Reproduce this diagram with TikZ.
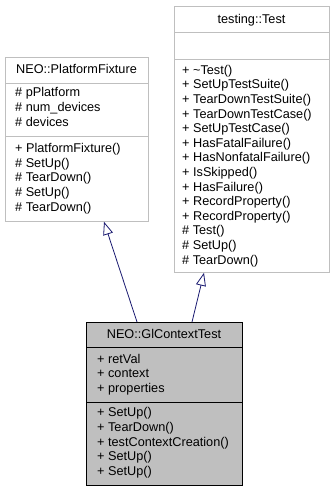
\documentclass[tikz,border=0pt]{standalone}
\usepackage{fontspec}
\setmainfont{Liberation Sans}
\usetikzlibrary{arrows.meta}

\definecolor{edgeblue}{HTML}{191970}
\definecolor{boxgray}{HTML}{BFBFBF}

\tikzset{
  classbox/.style={draw=boxgray, fill=white, anchor=north west, inner sep=0pt, line width=0.8pt},
  focusbox/.style={classbox, draw=black, fill=boxgray},
  members/.style={anchor=north west, inner sep=0pt, align=left, font=\fontsize{12.7}{14.6}\selectfont},
  classname/.style={anchor=base, inner sep=0pt, font=\fontsize{12.7}{14.6}\selectfont},
  inherit/.style={draw=edgeblue, line width=0.8pt, -{Triangle[open, length=13pt, width=10pt]}},
}

\begin{document}
\begin{tikzpicture}[x=1pt, y=-1pt]
        \useasboundingbox (0,0) rectangle (335,492);

        % NEO::PlatformFixture
        \node[classbox, minimum width=143pt, minimum height=164pt] (fixture) at (5,57) {};
        \draw[boxgray, line width=0.8pt] (5,83) -- (148,83);
        \draw[boxgray, line width=0.8pt] (5,136) -- (148,136);
        \node[classname] (fixture-name) at (76.5,74) {NEO::PlatformFixture};
        \node[members] (fixture-attr) at (15,86.5) {\strut\# pPlatform\\\# num\_devices\\\# devices};
        \node[members] (fixture-ops) at (15,142.3) {\strut+ PlatformFixture()\\\# SetUp()\\\# TearDown()\\\# SetUp()\\\# TearDown()};

        % testing::Test
        \node[classbox, minimum width=155pt, minimum height=266pt] (test) at (174,6) {};
        \draw[boxgray, line width=0.8pt] (174,32) -- (329,32);
        \draw[boxgray, line width=0.8pt] (174,59) -- (329,59);
        \node[classname] (test-name) at (251.5,24) {testing::Test};
        \node[members] (test-ops) at (182,63.8) {\strut+ \textasciitilde Test()\\+ SetUpTestSuite()\\+ TearDownTestSuite()\\+ TearDownTestCase()\\+ SetUpTestCase()\\+ HasFatalFailure()\\+ HasNonfatalFailure()\\+ IsSkipped()\\+ HasFailure()\\+ RecordProperty()\\+ RecordProperty()\\\# Test()\\\# SetUp()\\\# TearDown()};

        % NEO::GlContextTest
        \node[focusbox, minimum width=156pt, minimum height=163pt] (glctx) at (86,322) {};
        \draw[line width=0.8pt] (86,347) -- (242,347);
        \draw[line width=0.8pt] (86,402) -- (242,402);
        \node[classname] (glctx-name) at (164,338) {NEO::GlContextTest};
        \node[members] (glctx-attr) at (97,352.8) {\strut+ retVal\\+ context\\+ properties};
        \node[members] (glctx-ops) at (97,406.5) {\strut+ SetUp()\\+ TearDown()\\+ testContextCreation()\\+ SetUp()\\+ SetUp()};

        % inheritance
        \draw[inherit] ([xshift=51pt]glctx.north west) -- ([xshift=99pt]fixture.south west);
        \draw[inherit] ([xshift=106pt]glctx.north west) -- ([xshift=30pt]test.south west);
    \end{tikzpicture}
\end{document}
